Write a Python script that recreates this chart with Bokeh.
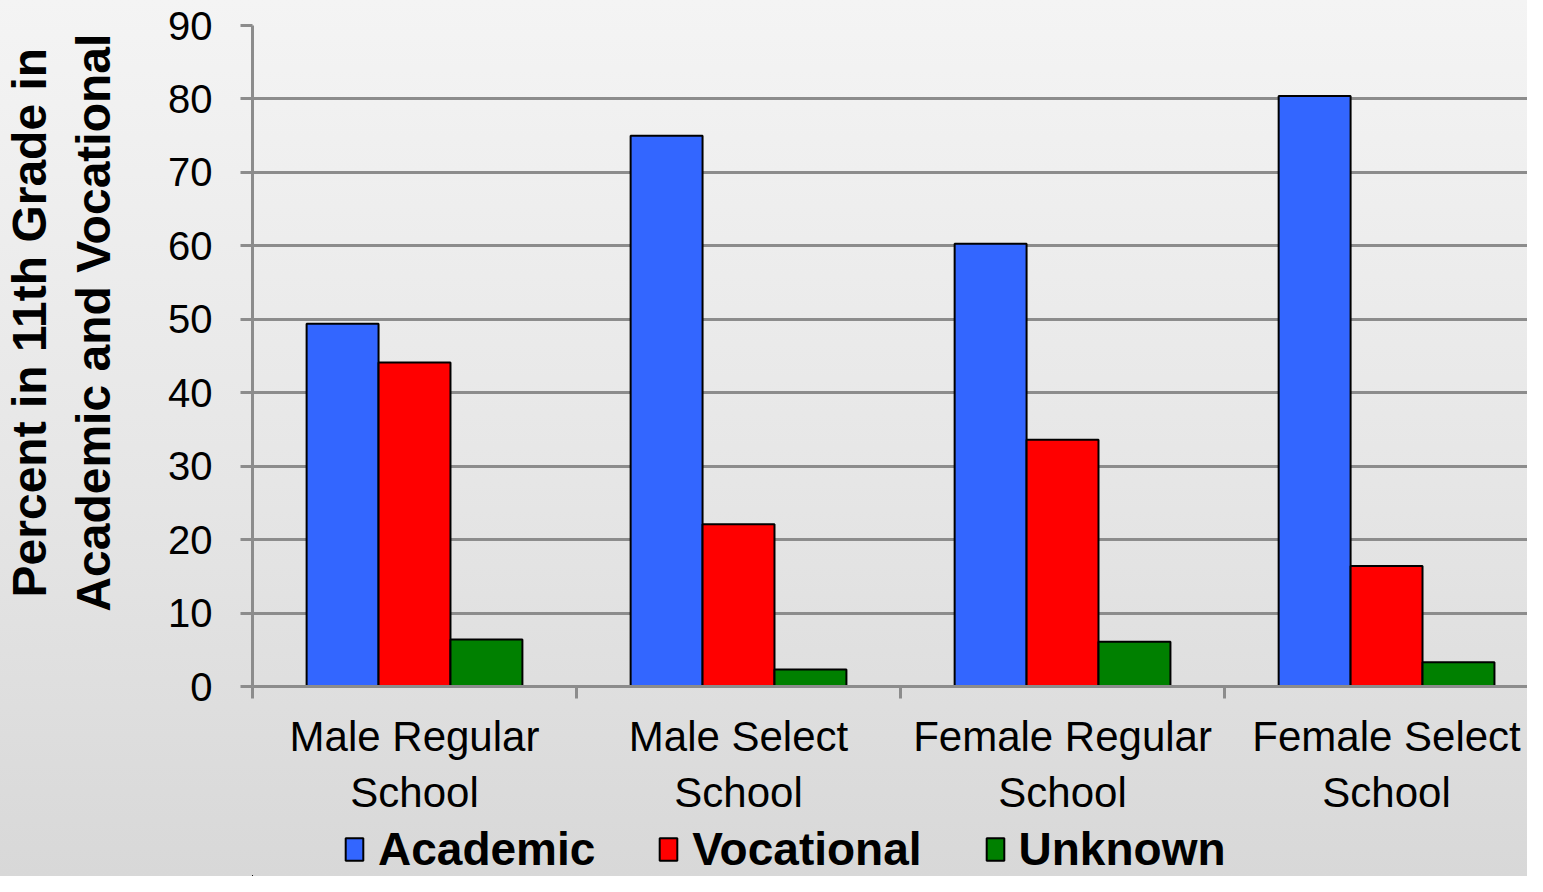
from bokeh.plotting import figure
from bokeh.layouts import column
from bokeh.models import ColumnDataSource, FixedTicker, Legend, LegendItem, Range1d
from bokeh.embed import file_html
from bokeh.resources import INLINE

categories = ["Male Regular\nSchool", "Male Select\nSchool", "Female Regular\nSchool", "Female Select\nSchool"]
series = ["Academic", "Vocational", "Unknown"]
academic = [49.4, 75.0, 60.3, 80.4]
vocational = [44.1, 22.1, 33.6, 16.4]
unknown = [6.4, 2.3, 6.1, 3.3]
colors = ["#3366FF", "#FF0000", "#008000"]
y_ticks = [0, 10, 20, 30, 40, 50, 60, 70, 80, 90]
y_title = "Percent in 11th Grade in\nAcademic and Vocational"

FONT = "Liberation Sans"
GRID = "#8c8c8c"
NB = "\u00a0" * 5  # nudges the centred title upward like the original

W = 1527
p = figure(width=W, height=822, output_backend="svg", toolbar_location=None,
           x_range=Range1d(0, 3.935), y_range=Range1d(0, 90),
           min_border_left=252, min_border_right=0, min_border_top=25, min_border_bottom=136)
p.background_fill_alpha = 0
p.border_fill_alpha = 0
p.outline_line_color = None

# Legend strip: its view window lies far away from the bars so only the legend shows
q = figure(width=W, height=54, output_backend="svg", toolbar_location=None,
           x_axis_location=None, y_axis_location=None,
           x_range=Range1d(100, 101), y_range=Range1d(1000, 1001),
           min_border_left=252, min_border_right=0, min_border_top=0, min_border_bottom=0)
q.background_fill_alpha = 0
q.border_fill_alpha = 0
q.outline_line_color = None
q.grid.visible = False

width = 0.222
items = []
for i, (name, vals) in enumerate(zip(series, [academic, vocational, unknown])):
    xs = [j + 0.5 + (i - 1) * width for j in range(len(categories))]
    src = ColumnDataSource(dict(x=xs, top=vals))
    p.vbar(x="x", top="top", width=width, bottom=0, source=src,
           fill_color=colors[i], line_color="black", line_width=2)
    r = q.vbar(x="x", top="top", width=width, bottom=0, source=src,
               fill_color=colors[i], line_color="black", line_width=2)
    items.append(LegendItem(label=name, renderers=[r]))

# Y axis
p.yaxis.ticker = FixedTicker(ticks=y_ticks)
p.yaxis.axis_line_color = GRID
p.yaxis.axis_line_width = 3
p.yaxis.major_tick_line_color = GRID
p.yaxis.major_tick_line_width = 3
p.yaxis.major_tick_out = 12
p.yaxis.major_tick_in = 0
p.yaxis.minor_tick_line_color = None
p.yaxis.major_label_text_font = FONT
p.yaxis.major_label_text_font_size = "40px"
p.yaxis.major_label_text_color = "black"
p.yaxis.major_label_standoff = 28
p.yaxis.axis_label = "\n".join(NB + line for line in y_title.split("\n"))
p.yaxis.axis_label_text_font = FONT
p.yaxis.axis_label_text_font_size = "48px"
p.yaxis.axis_label_text_font_style = "bold"
p.yaxis.axis_label_text_color = "black"
p.yaxis.axis_label_standoff = 45

# X axis
p.xaxis.ticker = FixedTicker(ticks=[j + 0.5 for j in range(len(categories))],
                             minor_ticks=list(range(len(categories) + 1)))
p.xaxis.major_label_overrides = {j + 0.5: c for j, c in enumerate(categories)}
p.xaxis.axis_line_color = GRID
p.xaxis.axis_line_width = 3
p.xaxis.major_tick_line_color = None
p.xaxis.minor_tick_line_color = GRID
p.xaxis.minor_tick_line_width = 3
p.xaxis.minor_tick_out = 12
p.xaxis.minor_tick_in = 0
p.xaxis.major_label_text_font = FONT
p.xaxis.major_label_text_font_size = "42px"
p.xaxis.major_label_text_color = "black"
p.xaxis.major_label_standoff = 14

p.xgrid.grid_line_color = None
p.ygrid.ticker = FixedTicker(ticks=y_ticks)
p.ygrid.grid_line_color = GRID
p.ygrid.grid_line_width = 3

legend = Legend(items=items, orientation="horizontal", location=(91, 0))
legend.label_text_font = FONT
legend.label_text_font_size = "46px"
legend.label_text_font_style = "bold"
legend.label_text_color = "black"
legend.glyph_width = 22
legend.glyph_height = 28
legend.label_standoff = 13
legend.spacing = 62
legend.padding = 0
legend.margin = 0
legend.background_fill_alpha = 0
legend.border_line_color = None
q.add_layout(legend, "center")

layout = column(p, q, spacing=0)
layout.styles = {"background": "linear-gradient(to bottom, #f4f4f4 0%, #e6e6e6 55%, #d8d8d8 100%)"}

open("out.html", "w").write(file_html(layout, INLINE))
